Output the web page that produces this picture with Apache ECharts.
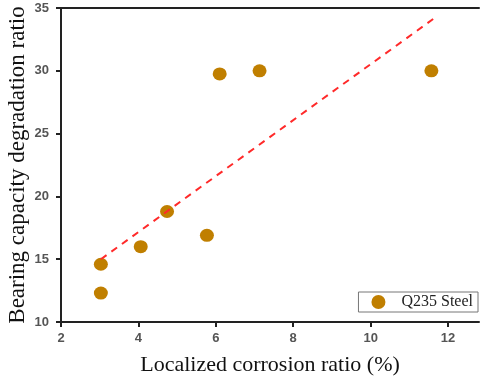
<!DOCTYPE html>
<html><head><meta charset="utf-8">
<script src="https://cdn.jsdelivr.net/npm/echarts@6/dist/echarts.min.js"></script>
<style>html,body{margin:0;padding:0;background:#fff}#c{width:480px;height:380px}</style>
</head><body><div id="c"></div>
<script>
const corrosionRatio = [3.03, 3.03, 4.06, 4.74, 5.77, 6.10, 7.13, 11.57];
const degradationRatio = [14.6, 12.3, 16.0, 18.8, 16.9, 29.75, 30.0, 30.0];
const fitX = [3.03, 11.65];
const fitY = [15.0, 34.2];
const xTicks = [2, 4, 6, 8, 10, 12];
const yTicks = [10, 15, 20, 25, 30, 35];

const chart = echarts.init(document.getElementById('c'), null, {renderer: 'canvas'});
const axisLine = {show: true, lineStyle: {color: '#222', width: 2}};
const labelStyle = {fontFamily: 'Liberation Sans', fontSize: 13, fontWeight: 'bold', color: '#555'};
chart.setOption({
  animation: false,
  grid: {left: 61, top: 8, width: 418, height: 314, containLabel: false, outerBoundsMode: 'none'},
  legend: {
    data: ['Q235 Steel'], right: 2, top: 292, orient: 'horizontal',
    borderColor: '#777', borderWidth: 1, padding: [2, 5, 2, 13], itemGap: 0,
    itemWidth: 14, itemHeight: 14, icon: 'circle',
    textStyle: {fontFamily: 'Liberation Serif', fontSize: 16, color: '#222', padding: [0, 0, 0, 11]}
  },
  xAxis: [{
    type: 'value', min: 2, max: 12.8,
    name: 'Localized corrosion ratio (%)', nameLocation: 'middle', nameGap: 32, nameMoveOverlap: false,
    nameTextStyle: {fontFamily: 'Liberation Serif', fontSize: 22, color: '#111'},
    axisLine: axisLine,
    axisTick: {show: true, length: 5, customValues: xTicks, lineStyle: {color: '#222', width: 2}},
    axisLabel: Object.assign({margin: 10, customValues: xTicks}, labelStyle),
    splitLine: {show: false}
  }, {
    type: 'value', position: 'top', min: 2, max: 12.8,
    axisLine: axisLine, axisTick: {show: false}, axisLabel: {show: false}, splitLine: {show: false}
  }],
  yAxis: [{
    type: 'value', min: 10, max: 35, interval: 5,
    name: 'Bearing capacity degradation ratio', nameLocation: 'middle', nameGap: 32, nameMoveOverlap: false,
    nameTextStyle: {fontFamily: 'Liberation Serif', fontSize: 23, color: '#111'},
    axisLine: axisLine,
    axisTick: {show: true, length: 5, customValues: yTicks, lineStyle: {color: '#222', width: 2}},
    axisLabel: Object.assign({margin: 12, customValues: yTicks}, labelStyle),
    splitLine: {show: false}
  }],
  series: [{
    name: 'Q235 Steel', type: 'scatter', symbol: 'circle', symbolSize: [14, 13],
    itemStyle: {color: '#c07f00', opacity: 1},
    data: corrosionRatio.map((x, i) => [x, degradationRatio[i]])
  }, {
    name: 'fit', type: 'line', symbol: 'none', silent: true,
    lineStyle: {color: '#ff2a2a', width: 2, type: [7, 6]},
    data: fitX.map((x, i) => [x, fitY[i]])
  }]
});
</script></body></html>
